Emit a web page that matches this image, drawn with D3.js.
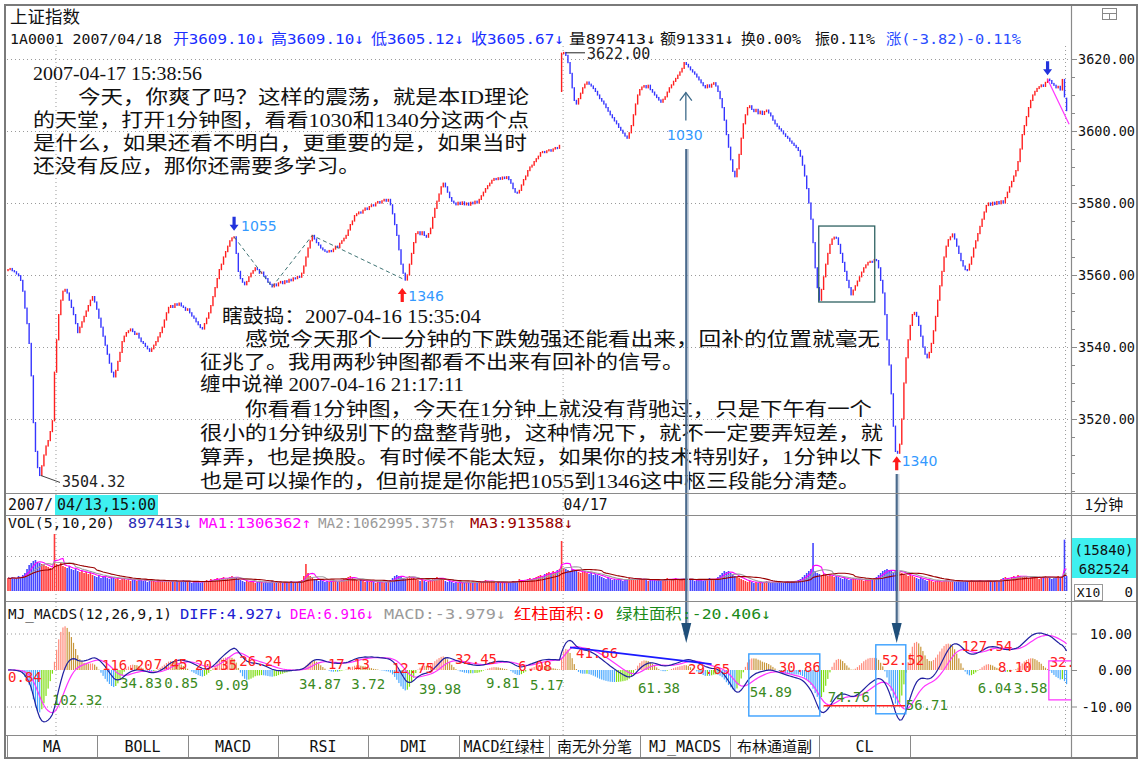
<!DOCTYPE html>
<html><head><meta charset="utf-8">
<script src="https://cdn.jsdelivr.net/npm/d3@7"></script>
<style>body{margin:0;background:#fff;overflow:hidden} svg{display:block}</style>
</head><body>
<svg id="c" width="1141" height="762"></svg>
<script>
// ---------------- DATA ----------------
const closes = [
3561.5,3561.8,3561.2,3560.9,3560.3,3559.8,3558.5,3555.5,3550.8,3546.5,
3541,3532,3519,3511,3506.5,3504.32,3507,3510,3512.5,3514,
3516.5,3519.5,
3533,3542,3549,3553,3555.5,3556,3555,3553,3551,
3549,3546.5,3544,3545.5,3547,3548.5,3550,3551.5,3553,3554,
3552.5,3550.5,3548,3545.5,3543,3540.5,3538,3535.5,3533,3531.7,
3533.5,3536,3538.5,3541.5,3543,3544,3544.5,3545,3544.3,3543.5,
3543.8,3542.5,3541.5,3541,3540.2,3539.5,3538.8,3539.5,3540.5,3541.5,
3542.8,3544,3545.5,3547.5,3549.5,3551,3551.5,3551,3552,3551.6,
3552.2,3551.4,3551,3550.2,3550.6,3549.5,3548.6,3548,3547,3546.2,
3545.4,3545,3546.5,3548,3549.5,3551.5,3554,3556.5,3559,3561.5,
3563,3565,3566.5,3568,3569.5,3570.3,3570.6,3566,3561,3559,
3558,3557.3,3558.2,3559.5,3560.5,3561.2,3562,3561.5,3560.5,3560.8,
3559.7,3559,3558,3557.4,3556.7,3557.5,3557,3557.8,3558.2,3557.6,
3558.4,3558,3558.8,3558.4,3559.2,3559,3559.6,3559.4,3560.5,3562.5,
3565,3567.5,3569.5,3571,3570,3569,3568.3,3567.5,3567,3566.6,
3566.4,3566.8,3566.5,3567.2,3568,3567.6,3568.8,3569.5,3570.2,3571,
3572.5,3574,3575,3576.5,3577,3577.5,3577.2,3578,3578.6,3578.2,
3579,3579.5,3579.2,3580,3580.4,3580,3580.6,3581,3580.5,3581,
3579.5,3577,3574,3571,3567,3563,3560.5,3558.6,3560,3563,
3566,3569,3571.5,3572,3571.2,3572,3571,3570.5,3571.5,3573,
3576,3578.5,3580.5,3582.5,3584.5,3585.5,3584.5,3583,3581.5,3580.5,
3580,3579.5,3580.2,3579.6,3580.3,3579.5,3580,3579.4,3580.2,3579.8,
3580.5,3580,3581,3582,3583,3584,3584.8,3585.5,3586.3,3586.8,
3586.5,3587,3586.6,3587.2,3586.8,3587.3,3586.5,3585.5,3584,3583,
3582.8,3583.5,3585,3586.5,3587.5,3589,3590,3590.5,3591.5,3592.3,
3593,3594,3594.3,3594,3594.5,3594.8,3594.4,3595,3595.4,3595.2,3596,
3621.6,3621.8,3621,3619,3616,3612,3608.5,3607.5,3609,
3610.5,3612,3613,3613.6,3613,3612.5,3611.8,3611,3610,3609,
3608.3,3607.5,3606.5,3605.5,3604.5,3603.7,3602.8,3602,3601,3600.2,
3599.4,3598.6,3598,3599.5,3601.5,3604.5,3607.5,3610,3611.5,3612.2,
3612.6,3612,3612.7,3611.5,3610.8,3610,3609.3,3608.6,3608,3608.8,
3609.5,3610.8,3612,3612.8,3613.8,3614.6,3615.5,3616.4,3617.4,3619,
3618.5,3617.8,3617,3616.4,3615.8,3615,3614.2,3613.4,3612.6,3612,
3612.8,3612.2,3613,3613.4,3612.5,3611,3609,3606.5,3603,3599,
3595.5,3592,3588.8,3587.3,3589.5,3593.5,3598,3602,3604.5,3606.5,
3607,3606,3605.4,3606,3604.8,3605.5,3604.6,3605.4,3605.8,3605,
3604.2,3603,3602,3601.3,3600.6,3600,3599.2,3598.5,3598,3597.2,
3596.6,3596,3595.4,3594.6,3593,3590.5,3587.5,3584,3580,3575.5,
3569,3562,3556.5,3553,3556,3559.5,3563,3566,3568.5,3570,
3570.5,3570.3,3568.5,3566,3563.5,3561,3558.5,3556.5,3554.5,3555.8,
3557,3558.3,3559.5,3560.8,3562,3562.8,3563.5,3563.8,3563.6,3564.3,
3564,3562,3558.5,3555,3549,3542,3535,3527,3518,3511,
3510.5,3513,3520,3530,3537,3542,3546,3549,3549.6,3548.5,
3546,3543,3540,3538,3537,3538.5,3541,3544.5,3548.5,3553,
3557,3561,3565,3568,3569.8,3570.6,3571.4,3570,3568,3566,
3564,3562.5,3561.5,3561.4,3563,3565,3567.5,3569.5,3571.5,3573.5,
3575.5,3577.5,3579.3,3580,3579.4,3580.2,3579.6,3580.4,3579.8,3580.6,
3580,3581.5,3583,3584.5,3586,3587.5,3589,3591.5,3595,3599,
3601.5,3604,3606.5,3608.5,3610,3611,3611.8,3612.3,3612.8,3612.4,
3613.5,3614.4,3614,3613.2,3612.7,3612,3612.4,3611.4,3614.3,3609.5,
3605.67];
const gapOpens = [[262, 3611.0], [501, 3609.10]];
const volumes = [
780,720,840,780,720,900,840,960,1080,1320,
1560,1680,1800,1860,1740,1680,1620,1560,1500,1440,
1380,1320,
3420,1620,1560,1680,1500,1440,1380,1500,1320,
1260,1320,1200,1140,1200,1080,1140,1020,1080,960,
900,840,960,780,840,900,780,720,840,780,
720,780,660,720,780,660,720,600,660,720,
600,660,720,600,660,540,600,660,600,540,
600,660,600,540,600,660,540,600,540,600,
540,600,660,540,600,540,480,540,600,540,
480,540,600,660,600,720,660,720,780,720,
780,840,720,780,840,900,780,840,720,660,
600,540,600,540,600,540,480,540,600,540,
480,540,480,540,600,480,540,480,540,480,
540,480,540,600,540,480,540,600,660,900,
1620,1080,900,780,720,660,600,660,600,540,
600,540,600,660,600,540,600,660,720,780,
840,900,780,720,660,600,660,600,540,600,
540,600,540,480,540,600,540,480,540,600,
660,780,900,960,900,840,780,720,840,900,
840,780,720,660,600,660,600,540,600,660,
720,780,840,780,720,660,600,540,600,540,
480,540,480,540,480,540,480,540,480,540,
480,540,600,540,600,660,600,540,600,540,
480,540,480,540,480,540,480,540,600,540,
600,720,660,600,660,720,780,720,780,840,
900,960,900,1020,1080,1140,1080,1200,1140,1260,1320,
3000,1380,1320,1260,1200,1320,1260,1200,1140,
1080,1140,1200,1080,1020,1080,960,1020,960,900,
840,780,720,780,720,660,720,660,720,660,
600,660,720,780,720,660,720,780,720,660,
720,660,600,660,720,660,600,660,600,660,
720,780,720,660,720,780,720,660,720,780,
720,660,720,660,600,660,720,660,600,660,
720,780,720,660,720,840,960,1080,1200,1140,
1200,1080,960,900,840,780,720,660,600,540,
600,540,480,540,480,540,480,540,600,540,
480,540,480,540,600,540,480,540,600,540,
600,540,600,660,720,840,960,1080,1200,1320,
2880,1200,1080,1020,960,1020,960,900,960,900,
840,900,840,780,720,780,720,660,720,780,
720,660,720,660,600,660,720,660,720,780,
840,960,1080,1200,1260,1320,1260,1200,1140,1200,
1260,1140,1080,1020,960,900,960,900,840,780,
720,780,720,660,600,660,600,540,600,660,
600,540,600,660,600,540,600,540,600,660,
600,540,600,540,600,660,600,540,600,660,
600,540,600,660,600,540,600,660,600,720,
780,840,780,720,840,900,840,960,900,840,
900,840,780,840,900,840,780,720,780,840,
900,840,780,720,840,780,900,840,900,3080,
897];
const dayStarts = [22, 262, 501];
const priceTicks = [3520, 3540, 3560, 3580, 3600, 3620];
const macdTicks = [10, 0, -10];
const macdTickLabels = ["10.00", "0.00", "-10.00"];
const tabLabels = ["MA","BOLL","MACD","RSI","DMI","MACD红绿柱","南无外分笔","MJ_MACDS","布林通道副","CL"];
// [text, bar index, MACD value, kind]
const macdAreaLabels = [
["0.84",0,-1.9,"r"],["102.32",20.8,-8.2,"g"],["116.20",44.5,1.4,"r"],["34.83",53.0,-3.6,"g"],
["7.45",69.0,1.6,"r"],["0.85",74.0,-3.5,"g"],["20.35",88.5,1.4,"r"],["9.09",98,-4.1,"g"],
["26.24",109.5,2.4,"r"],["34.87",137.7,-3.9,"g"],["17.13",151.4,1.6,"r"],["3.72",162.5,-3.9,"g"],
["12.75",181.7,0.6,"r"],["39.98",194.5,-5.2,"g"],["32.45",211.5,2.9,"r"],["9.81",226.2,-3.6,"g"],
["6.08",241.5,1.2,"r"],["5.17",247,-4.2,"g"],["41.66",268.8,4.7,"r"],["61.38",298.1,-4.9,"g"],
["29.65",321.8,0.3,"r"],["54.89",351.1,-6.0,"g"],["30.86",364.8,0.8,"r"],["74.76",388,-7.4,"g"],
["52.52",413.6,2.7,"r"],["56.71",424.9,-9.6,"g"],["127.54",451.4,6.5,"r"],["6.04",459,-5.0,"g"],
["8.10",468.5,0.9,"r"],["3.58",476,-5.0,"g"],["32.",493,2.2,"r"]];
const noteA = ["2007-04-17 15:38:56",
"　　今天，你爽了吗？这样的震荡，就是本ID理论",
"的天堂，打开1分钟图，看看1030和1340分这两个点",
"是什么，如果还看不明白，更重要的是，如果当时",
"还没有反应，那你还需要多学习。"];
const noteB = ["瞎鼓捣：2007-04-16 15:35:04",
"感觉今天那个一分钟的下跌勉强还能看出来，回补的位置就毫无",
"征兆了。我用两秒钟图都看不出来有回补的信号。",
"缠中说禅 2007-04-16 21:17:11",
"你看看1分钟图，今天在1分钟上就没有背驰过，只是下午有一个",
"很小的1分钟级别下的盘整背驰，这种情况下，就不一定要弄短差，就",
"算弄，也是换股。有时候不能太短，如果你的技术特别好，1分钟以下",
"也是可以操作的，但前提是你能把1055到1346这中枢三段能分清楚。"];

// ---------------- SETUP ----------------
const MONO = "'DejaVu Sans Mono','Noto Sans CJK SC',monospace";
const CJK = "'Noto Sans CJK SC','DejaVu Sans',sans-serif";
const SERIF = "'Liberation Serif','Noto Sans CJK SC',serif";
const SANS = "'DejaVu Sans','Noto Sans CJK SC',sans-serif";
const RED = "#ff2020", BLUE = "#3636ff";
const svg = d3.select("#c");
const defs = svg.append("defs");
function clip(id, x, y, w, h){ defs.append("clipPath").attr("id", id).append("rect").attr("x",x).attr("y",y).attr("width",w).attr("height",h); }
clip("cp", 7, 46, 1064, 447);
clip("cv", 7, 530, 1064, 70);
clip("cm", 7, 604, 1064, 130);

const xS = d3.scaleLinear().domain([0, 501]).range([8, 1066.6]);
const yP = d3.scaleLinear().domain([3520, 3620]).range([419, 59]);
const yV = d3.scaleLinear().domain([0, 4500]).range([591, 516]);
const yM = d3.scaleLinear().domain([-10, 10]).range([706.5, 633.5]);

const opens = closes.map((c, i) => i === 0 ? c : closes[i - 1]);
gapOpens.forEach(([i, o]) => { opens[i] = o; });

function T(parent, x, y, s, o = {}) {
  const t = parent.append("text").attr("x", x).attr("y", y).text(s)
    .attr("font-family", o.ff || MONO).attr("font-size", o.fs || 14)
    .attr("fill", o.fill || "#000");
  if (o.anchor) t.attr("text-anchor", o.anchor);
  if (o.len) t.attr("textLength", o.len).attr("lengthAdjust", o.adj || "spacingAndGlyphs");
  if (o.fw) t.attr("font-weight", o.fw);
  return t;
}
function L(parent, x1, y1, x2, y2, stroke, w = 1, dash = null) {
  const l = parent.append("line").attr("x1", x1).attr("y1", y1).attr("x2", x2).attr("y2", y2)
    .attr("stroke", stroke).attr("stroke-width", w);
  if (dash) l.attr("stroke-dasharray", dash);
  return l;
}

// ---------------- GRID ----------------
const grid = svg.append("g");
priceTicks.forEach(t => L(grid, 7, yP(t) + 0.5, 1071, yP(t) + 0.5, "#9a9a9a", 1, "1,3"));
L(grid, 7, 556.5, 1071, 556.5, "#9a9a9a", 1, "1,3");
macdTicks.filter(t => t !== 0).forEach(t => L(grid, 7, yM(t) + 0.5, 1071, yM(t) + 0.5, "#9a9a9a", 1, "1,3"));
dayStarts.forEach((d, k) => {
  const xx = k < 2 ? xS(d) + 1.5 : xS(d - 0.5);
  L(grid, xx, 46, xx, 735, "#9a9a9a", 1, "1,3");
});

// ---------------- PRICE BARS ----------------
const pg = svg.append("g").attr("clip-path", "url(#cp)");
pg.selectAll("rect").data(closes).join("rect")
  .attr("x", (d, i) => xS(i) - 0.7).attr("width", 1.4)
  .attr("y", (d, i) => Math.min(yP(d), yP(opens[i])) - 0.6)
  .attr("height", (d, i) => Math.max(Math.abs(yP(d) - yP(opens[i])), 1.0) + 1.2)
  .attr("fill", (d, i) => d >= opens[i] ? RED : BLUE);

// ---------------- VOLUME ----------------
const vg = svg.append("g").attr("clip-path", "url(#cv)");
vg.selectAll("rect").data(volumes).join("rect")
  .attr("x", (d, i) => xS(i) - 0.8).attr("width", 1.6)
  .attr("y", d => yV(d)).attr("height", d => yV(0) - yV(d))
  .attr("fill", (d, i) => closes[i] >= opens[i] ? "#ff3b3b" : "#4646ff");
function sma(arr, n) { return arr.map((v, i) => { const s = arr.slice(Math.max(0, i - n + 1), i + 1); return d3.mean(s); }); }
[[5, "#ff00ff"], [10, "#a0a0a0"], [20, "#9a0000"]].forEach(([n, c]) => {
  vg.append("path").datum(sma(volumes, n)).attr("fill", "none").attr("stroke", c).attr("stroke-width", 1.1)
    .attr("d", d3.line().x((d, i) => xS(i)).y(d => yV(d)));
});

// ---------------- MACD ----------------
function ema(arr, n) { const k = 2 / (n + 1); let p = arr[0]; return arr.map((v, i) => (p = i === 0 ? v : p + k * (v - p))); }
const e12 = ema(closes, 12), e26 = ema(closes, 26);
const diff = e12.map((v, i) => v - e26[i]);
const dea = ema(diff, 9);
const macd = diff.map((v, i) => 2 * (v - dea[i]));
const mg = svg.append("g").attr("clip-path", "url(#cm)");
mg.selectAll("rect").data(macd).join("rect")
  .attr("x", (d, i) => xS(i) - 0.6).attr("width", 1.2)
  .attr("y", d => Math.min(yM(d), yM(0))).attr("height", d => Math.abs(yM(d) - yM(0)))
  .attr("fill", (d, i) => {
    const p = i ? macd[i - 1] : d;
    if (d >= 0) return d >= p ? "#ff8a7a" : "#c8963a";
    return d <= p ? "#4aa8ff" : "#7ddc10";
  });
mg.append("path").datum(dea).attr("fill", "none").attr("stroke", "#ff33ff").attr("stroke-width", 1.2)
  .attr("d", d3.line().x((d, i) => xS(i)).y(d => yM(d)));
mg.append("path").datum(diff).attr("fill", "none").attr("stroke", "#2020a0").attr("stroke-width", 1.2)
  .attr("d", d3.line().x((d, i) => xS(i)).y(d => yM(d)));
// area labels
macdAreaLabels.forEach(([s, i, v, k]) => T(mg, xS(i), yM(v) + 5, s, { fs: 14, fill: k === "r" ? "#ff2020" : "#3a8a1e" }));
// drawn shapes in MACD panel
L(mg, xS(266), yM(6.2), xS(333), yM(1.6), "#1a1aff", 1.6);
L(mg, xS(386), yM(-9.8), xS(425), yM(-9.8), "#ff2020", 1.6);
mg.append("rect").attr("x", xS(350.6)).attr("y", yM(4.4)).attr("width", xS(384.2) - xS(350.6)).attr("height", yM(-12.6) - yM(4.4))
  .attr("fill", "none").attr("stroke", "#3aa0ff").attr("stroke-width", 1.4);
mg.append("rect").attr("x", xS(410.7)).attr("y", yM(6.9)).attr("width", xS(424.9) - xS(410.7)).attr("height", yM(-12.0) - yM(6.9))
  .attr("fill", "none").attr("stroke", "#3aa0ff").attr("stroke-width", 1.4);
svg.append("polyline").attr("points", [[1071, yM(2.5)], [xS(492.6), yM(2.5)], [xS(492.6), yM(-8.2)], [1071, yM(-8.2)]].join(" "))
  .attr("fill", "none").attr("stroke", "#ff33ff").attr("stroke-width", 1.2);

// ---------------- PRICE ANNOTATIONS ----------------
const an = svg.append("g");
function fatArrow(cx, tip, dir, color) {
  const b = tip - dir * 14, h = tip - dir * 6;
  an.append("polygon").attr("points", [[cx - 1.6, b], [cx + 1.6, b], [cx + 1.6, h], [cx + 4.5, h], [cx, tip], [cx - 4.5, h], [cx - 1.6, h]].join(" ")).attr("fill", color);
}
const dashPts = [[107, 3570.6], [125, 3556.7], [144, 3571], [188, 3558.6]];
an.append("path").attr("d", d3.line().x(d => xS(d[0])).y(d => yP(d[1]))(dashPts))
  .attr("fill", "none").attr("stroke", "#3f7474").attr("stroke-width", 1).attr("stroke-dasharray", "4,3");
an.append("rect").attr("x", xS(383.7)).attr("y", yP(3573.6)).attr("width", xS(410.2) - xS(383.7)).attr("height", yP(3552.5) - yP(3573.6))
  .attr("fill", "none").attr("stroke", "#2f6262").attr("stroke-width", 1.3);
L(an, xS(492), yP(3614.4), xS(502.2), yP(3601.9), "#ff33ff", 1.2);
fatArrow(xS(107), yP(3570.6) - 6, 1, "#2233dd");
T(an, xS(107) + 7, yP(3570.6) - 6, "1055", { ff: SANS, fs: 14, fill: "#3399ff" });
fatArrow(xS(188) - 3, yP(3558.6) + 8, -1, "#ff1a1a");
T(an, xS(188) + 3, yP(3558.6) + 21, "1346", { ff: SANS, fs: 14, fill: "#3399ff" });
fatArrow(xS(420.6), yP(3510.5) + 3, -1, "#ff1a1a");
T(an, xS(420.6) + 5, yP(3510.5) + 13, "1340", { ff: SANS, fs: 14, fill: "#3399ff" });
fatArrow(xS(492), yP(3614.4) - 4, 1, "#2233dd");
// 1030 thin arrow
const x1030 = xS(320.8);
L(an, x1030, yP(3619) + 58, x1030, yP(3619) + 30, "#3d6a8a", 1.3);
an.append("polyline").attr("points", [[x1030 - 6, yP(3619) + 38], [x1030, yP(3619) + 30], [x1030 + 6, yP(3619) + 38]].join(" "))
  .attr("fill", "none").attr("stroke", "#3d6a8a").attr("stroke-width", 1.3);
T(an, x1030 - 1, yP(3619) + 77, "1030", { ff: SANS, fs: 14, fill: "#3399ff", anchor: "middle" });
// extreme labels
L(an, xS(15) + 1, yP(3504.32), 60, yP(3504.32) + 7, "#444", 1);
T(an, 62, yP(3504.32) + 12, "3504.32", { fs: 15, fill: "#222" });
L(an, xS(263) + 2, yP(3622) + 1, 585, yP(3622) + 1, "#222", 1);
T(an, 587, yP(3622) + 7, "3622.00", { fs: 15, fill: "#222" });

// ---------------- NOTES ----------------
const nt = svg.append("g");
const aY = [80, 104, 127, 150, 173];
const aX = [[33, 169], [33, 496], [33, 496], [33, 494], [33, 327]];
noteA.forEach((s, k) => T(nt, aX[k][0], aY[k], s, { ff: SERIF, fs: 19, fill: "#111", len: aX[k][1], adj: "spacingAndGlyphs" }));
const bY = [323, 346, 369, 391, 416, 440, 464, 488];
const bX = [[222, 259], [245, 635], [200, 484], [200, 264], [245, 627], [200, 683], [200, 683], [200, 660]];
noteB.forEach((s, k) => T(nt, bX[k][0], bY[k], s, { ff: SERIF, fs: 19, fill: "#111", len: bX[k][1], adj: "spacingAndGlyphs" }));

// ---------------- LONG ARROWS ----------------
function longArrow(xx, y1) {
  L(svg, xx + 2, y1, xx + 2, 630, "#c9d3de", 1.5);
  L(svg, xx, y1, xx, 630, "#4a6a8c", 2.2);
  svg.append("polygon").attr("points", [[xx - 5, 623], [xx + 5, 623], [xx, 643]].join(" ")).attr("fill", "#1f4f7a");
}
longArrow(xS(321), 149);
longArrow(xS(420.6), 474);

// ---------------- FRAME ----------------
const fr = svg.append("g");
[493, 515, 601, 735, 757].forEach(y => L(fr, 6, y + 0.5, 1137, y + 0.5, "#8a8a8a", 1));
L(fr, 1071.5, 5, 1071.5, 757, "#8a8a8a", 1.2);
fr.append("rect").attr("x", 5).attr("y", 5).attr("width", 1132).attr("height", 753).attr("fill", "none").attr("stroke", "#7a7a7a").attr("stroke-width", 2);
// right price axis
d3.range(3500, 3625, 5).forEach(p => {
  const y = yP(p); if (y < 48 || y > 492) return;
  const major = priceTicks.includes(p);
  L(fr, 1071, y + 0.5, major ? 1077 : 1075, y + 0.5, "#8a8a8a", 1);
});
priceTicks.forEach(p => T(fr, 1078, yP(p) + 5, p.toFixed(2), { fs: 14, fill: "#111", len: 57 }));
macdTicks.forEach((t, k) => { L(fr, 1071, yM(t) + 0.5, 1077, yM(t) + 0.5, "#8a8a8a", 1); T(fr, 1132, yM(t) + 5, macdTickLabels[k], { fs: 14, fill: "#111", anchor: "end" }); });
// right panel widgets
T(fr, 1104, 510, "1分钟", { ff: CJK, fs: 15, fill: "#111", anchor: "middle" });
fr.append("rect").attr("x", 1072).attr("y", 538).attr("width", 64).attr("height", 40).attr("fill", "#3ef0f0");
T(fr, 1104, 555, "(15840)", { fs: 14, fill: "#111", anchor: "middle" });
T(fr, 1104, 574, "682524", { fs: 14, fill: "#111", anchor: "middle" });
fr.append("rect").attr("x", 1074.5).attr("y", 584.5).attr("width", 28).attr("height", 16).attr("fill", "#fff").attr("stroke", "#9a9a9a");
T(fr, 1088.5, 597, "X10", { fs: 13, fill: "#111", anchor: "middle" });
T(fr, 1133, 597, "0", { fs: 14, fill: "#111", anchor: "end" });
fr.append("rect").attr("x", 1102.5).attr("y", 8.5).attr("width", 14).attr("height", 11).attr("fill", "#fff").attr("stroke", "#888");
L(fr, 1103, 13.5, 1116, 13.5, "#888", 1); L(fr, 1109.5, 13.5, 1109.5, 19, "#888", 1);

// ---------------- HEADER ----------------
const hd = svg.append("g");
T(hd, 10, 23, "上证指数", { ff: CJK, fs: 17, fill: "#111", len: 70 });
const hdr = [["1A0001 2007/04/18", 10, 152, "#111"], ["开3609.10↓", 173, 92, "#1a2eff"], ["高3609.10↓", 271, 93, "#1a2eff"],
  ["低3605.12↓", 371, 93, "#1a2eff"], ["收3605.67↓", 471, 93, "#1a2eff"], ["量897413↓", 569, 87, "#111"], ["额91331↓", 660, 74, "#111"],
  ["换0.00%", 741, 60, "#111"], ["振0.11%", 815, 60, "#111"], ["涨(-3.82)-0.11%", 886, 135, "#2a4dff"]];
hdr.forEach(([s, x, w, c]) => T(hd, x, 44, s, { fs: 14.5, fill: c, len: w }));
// date bar
T(hd, 8, 510, "2007/", { fs: 15, fill: "#111", len: 45 });
hd.append("rect").attr("x", 55).attr("y", 495).attr("width", 103).attr("height", 20).attr("fill", "#3ef0f0");
T(hd, 57, 510, "04/13,15:00", { fs: 15, fill: "#111", len: 99 });
T(hd, xS(262) + 2, 510, "04/17", { fs: 15, fill: "#111", len: 44 });
// volume title
const vt = [["VOL(5,10,20)", 8, 107, "#111"], ["897413↓", 128, 64, "#2b2bb5"], ["MA1:1306362↑", 199, 112, "#ff00ff"],
  ["MA2:1062995.375↑", 318, 138, "#9a9a9a"], ["MA3:913588↓", 470, 103, "#9a0000"]];
vt.forEach(([s, x, w, c]) => T(hd, x, 528, s, { fs: 14.5, fill: c, len: w }));
const mt = [["MJ_MACDS(12,26,9,1)", 8, 164, "#111"], ["DIFF:4.927↓", 180, 103, "#2020d0"], ["DEA:6.916↓", 290, 84, "#ff00ff"],
  ["MACD:-3.979↓", 384, 122, "#9a9a9a"], ["红柱面积:0", 514, 90, "#ff0000"], ["绿柱面积:-20.406↓", 616, 155, "#1a8a1a"]];
mt.forEach(([s, x, w, c]) => T(hd, x, 619, s, { fs: 14.5, fill: c, len: w }));
// tabs
const tabX = [7, 97, 188, 278, 368, 459, 549, 640, 730, 819, 910];
tabX.forEach(x => L(fr, x + 0.5, 735, x + 0.5, 757, "#8a8a8a", 1));
tabLabels.forEach((s, k) => T(fr, (tabX[k] + tabX[k + 1]) / 2, 752, s, { fs: 15, fill: "#111", anchor: "middle", ff: MONO }));
</script>
</body></html>
